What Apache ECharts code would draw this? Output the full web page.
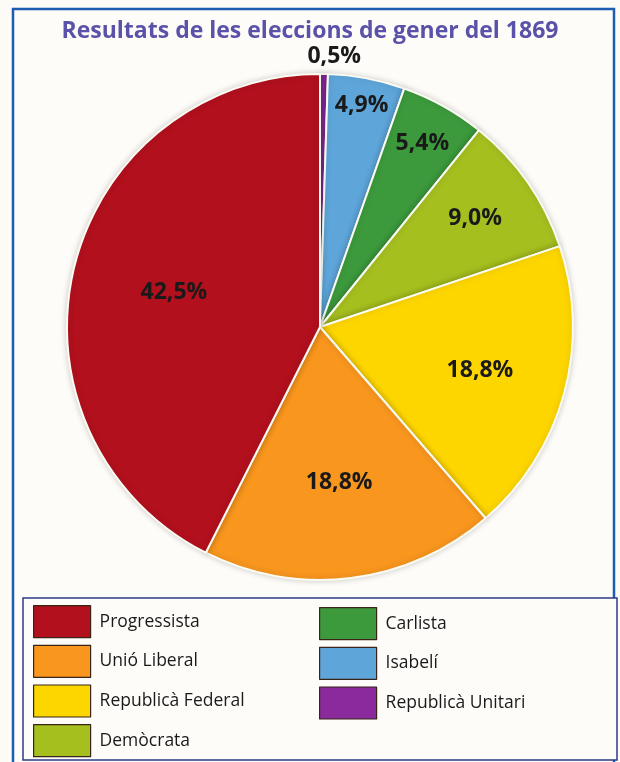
<!DOCTYPE html>
<html>
<head>
<meta charset="utf-8">
<script src="https://cdn.jsdelivr.net/npm/echarts@6/dist/echarts.min.js"></script>
<style>
html,body{margin:0;padding:0;background:#fcfbf6;}
#chart{width:620px;height:762px;}
</style>
</head>
<body>
<div id="chart"></div>
<script>
// Data (clockwise from top)
const parties = ['Republicà Unitari', 'Isabelí', 'Carlista', 'Demòcrata', 'Republicà Federal', 'Unió Liberal', 'Progressista'];
const shares = [0.5, 4.9, 5.4, 9.0, 18.8, 18.8, 42.5];
const shareLabels = ['0,5%', '4,9%', '5,4%', '9,0%', '18,8%', '18,8%', '42,5%'];
const legendLeft = ['Progressista', 'Unió Liberal', 'Republicà Federal', 'Demòcrata'];
const legendRight = ['Carlista', 'Isabelí', 'Republicà Unitari'];

const colors = {
  'Republicà Unitari': '#8b2a9c',
  'Isabelí': '#5ea6da',
  'Carlista': '#3c9a3c',
  'Demòcrata': '#a5bf1f',
  'Republicà Federal': '#fdd600',
  'Unió Liberal': '#f8961e',
  'Progressista': '#b2101d'
};
// radial scaling of the inside labels (relative to the slice mid-radius)
const labelScale = [2.09, 1.74, 1.62, 1.46, 1.28, 1.21, 1.16];
const CX = 320, CY = 327, R = 253;

const chart = echarts.init(document.getElementById('chart'));
const font = '"Open Sans", "Noto Sans", sans-serif';
const legendCommon = {
  orient: 'vertical', padding: 0, itemWidth: 57, itemHeight: 32, itemGap: 6.5, height: 160,
  icon: 'rect', itemStyle: { borderColor: '#3a2418', borderWidth: 1.2 },
  textStyle: { fontSize: 17.5, color: '#1a1a1a', fontFamily: font, padding: [0, 0, 0, 4] }
};

chart.setOption({
  animation: false,
  title: {
    text: 'Resultats de les eleccions de gener del 1869',
    left: 'center', top: 15,
    textStyle: { color: '#5a51a8', fontSize: 23, fontWeight: 'bold', fontFamily: font }
  },
  graphic: [
    { type: 'rect', z: -10, shape: { x: 13, y: 9, width: 601, height: 780 },
      style: { fill: '#fdfcf8', stroke: '#1d5cb0', lineWidth: 2.5 } },
    { type: 'rect', z: -5, shape: { x: 23, y: 598, width: 594, height: 162 },
      style: { fill: '#fdfcf8', stroke: '#2d3b86', lineWidth: 1.5 } }
  ],
  legend: [
    Object.assign({ data: legendLeft, left: 33, top: 605 }, legendCommon),
    Object.assign({ data: legendRight, left: 319, top: 607 }, legendCommon)
  ],
  series: [{
    type: 'pie',
    center: [CX, CY],
    radius: [0, R],
    startAngle: 90,
    clockwise: true,
    avoidLabelOverlap: false,
    itemStyle: { borderColor: '#fbfbf3', borderWidth: 2, shadowBlur: 6, shadowColor: 'rgba(0,0,0,0.18)' },
    label: {
      show: true, position: 'inside',
      formatter: (p) => shareLabels[p.dataIndex],
      fontSize: 23, fontWeight: 'bold', color: '#1a1a1a', fontFamily: font
    },
    labelLine: { show: false },
    labelLayout: function (p) {
      const r = p.labelRect;
      const mx = r.x + r.width / 2, my = r.y + r.height / 2;
      const k = labelScale[p.dataIndex];
      let nx = CX + (mx - CX) * k, ny = CY + (my - CY) * k;
      if (p.dataIndex === 0) nx += 10;
      return { x: nx, y: ny };
    },
    emphasis: { disabled: true },
    data: parties.map((n, i) => ({ name: n, value: shares[i], itemStyle: { color: colors[n] } }))
  }]
});
</script>
</body>
</html>
